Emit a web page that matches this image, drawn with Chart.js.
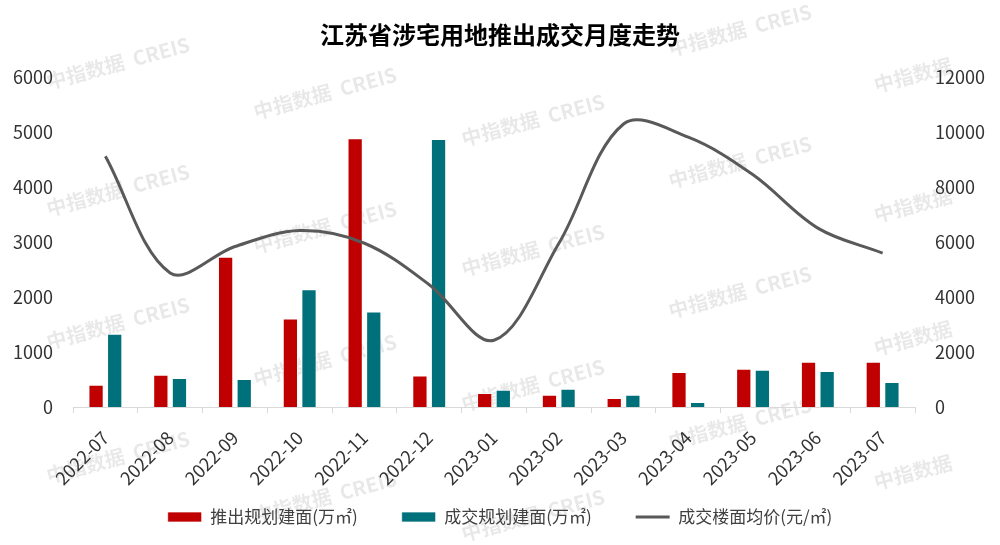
<!DOCTYPE html>
<html lang="zh-CN">
<head>
<meta charset="UTF-8">
<title>江苏省涉宅用地推出成交月度走势</title>
<script src="https://cdn.jsdelivr.net/npm/chart.js@4.4.1/dist/chart.umd.min.js"></script>
<style>
    html, body { margin: 0; padding: 0; background: #fff; }
</style>
</head>
<body>
<canvas id="grafico" width="1000" height="545"></canvas>
<script>
// Datos
const meses = ['2022-07', '2022-08', '2022-09', '2022-10', '2022-11', '2022-12', '2023-01',
               '2023-02', '2023-03', '2023-04', '2023-05', '2023-06', '2023-07'];
const tuichu = [405, 587, 2733, 1612, 4891, 575, 254, 224, 164, 636, 697, 824, 824];
const chengjiao = [1333, 527, 509, 2145, 1740, 4878, 315, 333, 224, 91, 679, 655, 455];
const junjia = [9130, 4880, 5840, 6420, 5960, 4450, 2430, 5950, 10300, 9820, 8450, 6510, 5600];
const ticksIzq = [0, 1000, 2000, 3000, 4000, 5000, 6000];
const ticksDer = [0, 2000, 4000, 6000, 8000, 10000, 12000];

Chart.defaults.font.family = "'Noto Sans CJK SC', 'Noto Sans', sans-serif";

// Marca de agua
const marcas = [
    [118, 63, true], [118, 190, true], [118, 323, true], [118, 457, true],
    [325, 93, true], [325, 227, true], [325, 360, true], [325, 497, true],
    [533, 120, true], [533, 250, true], [533, 385, true], [533, 515, true],
    [740, 30, true], [740, 162, true], [740, 292, true], [740, 423, true],
    [913, 75, false], [913, 205, false], [913, 338, false], [913, 472, false]
];
const marcaAgua = {
    id: 'marcaAgua',
    beforeDraw(chart) {
        const ctx = chart.ctx;
        ctx.save();
        ctx.fillStyle = 'rgba(0,0,0,0.09)';
        ctx.font = "bold 20px 'Noto Sans CJK SC', sans-serif";
        ctx.textAlign = 'center';
        ctx.textBaseline = 'middle';
        marcas.forEach(([x, y, conCreis]) => {
            ctx.save();
            ctx.translate(x, y);
            ctx.rotate(-15 * Math.PI / 180);
            ctx.fillText(conCreis ? '中指数据  CREIS' : '中指数据', 0, 0);
            ctx.restore();
        });
        ctx.restore();
    }
};

const ctx = document.getElementById('grafico').getContext('2d');
new Chart(ctx, {
    data: {
        labels: meses,
        datasets: [
            {
                type: 'bar',
                label: '推出规划建面(万㎡)',
                data: tuichu,
                backgroundColor: '#C00000',
                borderColor: 'rgba(255,255,255,0.7)',
                borderWidth: 1,
                categoryPercentage: 0.575,
                barPercentage: 0.82,
                pointStyle: 'rect',
                yAxisID: 'y',
                order: 2
            },
            {
                type: 'bar',
                label: '成交规划建面(万㎡)',
                data: chengjiao,
                backgroundColor: '#00717A',
                borderColor: 'rgba(255,255,255,0.7)',
                borderWidth: 1,
                categoryPercentage: 0.575,
                barPercentage: 0.82,
                pointStyle: 'rect',
                yAxisID: 'y',
                order: 2
            },
            {
                type: 'line',
                label: '成交楼面均价(元/㎡)',
                data: junjia,
                borderColor: '#595959',
                backgroundColor: '#595959',
                borderWidth: 3,
                pointRadius: 0,
                pointStyle: 'line',
                tension: 0.35,
                fill: false,
                yAxisID: 'y1',
                order: 1
            }
        ]
    },
    options: {
        responsive: false,
        animation: false,
        layout: { padding: { left: 0, right: 0, top: 0, bottom: 9.5 } },
        plugins: {
            title: {
                display: true,
                text: '江苏省涉宅用地推出成交月度走势',
                color: '#000',
                font: { size: 24, weight: 'bold' },
                padding: { top: 20, bottom: 28.5 }
            },
            legend: {
                position: 'bottom',
                align: 'center',
                labels: {
                    usePointStyle: true,
                    pointStyleWidth: 34,
                    boxHeight: 10,
                    padding: 18.5,
                    color: '#404040',
                    font: { size: 17 },
                    sort: (a, b) => a.datasetIndex - b.datasetIndex,
                    generateLabels: chart => {
                        const items = Chart.defaults.plugins.legend.labels.generateLabels(chart);
                        // separación extra entre elementos de la leyenda
                        items.forEach(it => { if (it.datasetIndex < 2) it.text += '\u2002\u2003'; });
                        return items;
                    }
                }
            },
            tooltip: { enabled: false }
        },
        scales: {
            x: {
                grid: { display: true, drawOnChartArea: false, drawTicks: true, tickLength: 6, color: '#d9d9d9', offset: true },
                border: { color: '#d9d9d9', width: 1 },
                ticks: { color: '#333', font: { size: 18 }, maxRotation: 45, minRotation: 45, autoSkip: false, padding: 14 },
                afterFit: s => { s.height = 83; }
            },
            y: {
                position: 'left',
                min: 0,
                max: 6000,
                grid: { display: false, drawTicks: false },
                border: { display: false },
                ticks: { color: '#333', font: { size: 18 }, padding: 20, callback: v => String(v) },
                afterBuildTicks: s => { s.ticks = ticksIzq.map(v => ({ value: v })); },
                afterFit: s => { s.width = 73; }
            },
            y1: {
                position: 'right',
                min: 0,
                max: 12000,
                grid: { display: false, drawTicks: false },
                border: { display: false },
                ticks: { color: '#333', font: { size: 18 }, padding: 20, callback: v => String(v) },
                afterBuildTicks: s => { s.ticks = ticksDer.map(v => ({ value: v })); },
                afterFit: s => { s.width = 85; }
            }
        }
    },
    plugins: [marcaAgua]
});
</script>
</body>
</html>
